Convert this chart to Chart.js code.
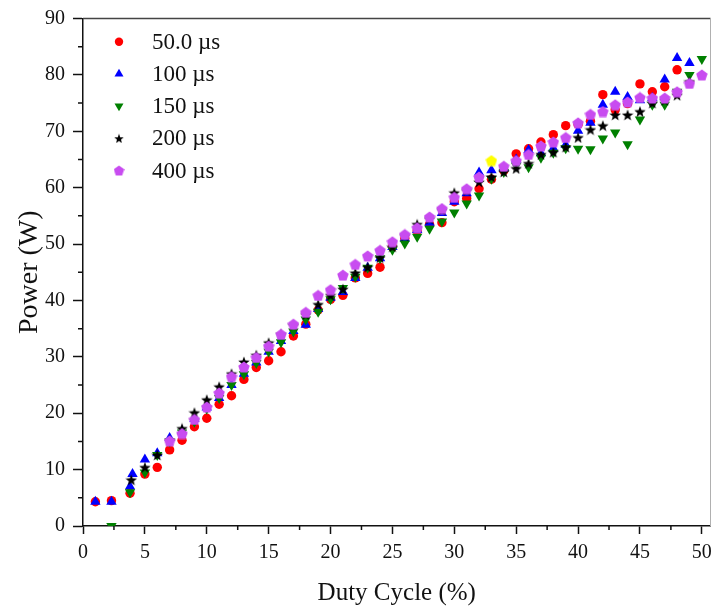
<!DOCTYPE html>
<html>
<head>
<meta charset="utf-8">
<script src="https://cdn.jsdelivr.net/npm/chart.js@4.4.1/dist/chart.umd.min.js"></script>
<style>
  html, body { margin: 0; padding: 0; background: #fff; }
</style>
</head>
<body>
<canvas id="powerChart" width="712" height="610"></canvas>
<script>
// Duty cycle (%) and power (W), one pair per pulse width
const dutyRed = [1, 2.3, 3.8, 5, 6, 7, 8, 9, 10, 11, 12, 13, 14, 15, 16, 17, 18, 19, 20, 21, 22, 23, 24, 25, 26, 27, 28, 29, 30, 31, 32, 33, 34, 35, 36, 37, 38, 39, 40, 41, 42, 43, 44, 45, 46, 47, 48];
const powerRed = [4.3, 4.5, 5.8, 9.2, 10.4, 13.5, 15.2, 17.6, 19.1, 21.6, 23.1, 26.0, 28.1, 29.3, 30.9, 33.7, 35.8, 38.3, 40.2, 40.9, 44.0, 44.8, 45.9, 49.5, 51.0, 52.3, 53.5, 53.8, 57.5, 58.1, 59.8, 61.5, 63.0, 66.0, 66.9, 68.1, 69.4, 71.0, 71.2, 71.8, 76.5, 73.8, 74.9, 78.4, 77.0, 77.9, 80.9];

const dutyBlue = [1, 2.3, 3.8, 4, 5, 6, 7, 8, 9, 10, 11, 12, 13, 14, 15, 16, 17, 18, 19, 20, 21, 22, 23, 24, 25, 26, 27, 28, 29, 30, 31, 32, 33, 34, 35, 36, 37, 38, 39, 40, 41, 42, 43, 44, 45, 46, 47, 48, 49];
const powerBlue = [4.3, 4.3, 7.0, 9.2, 11.8, 12.9, 15.6, 16.8, 19.0, 21.0, 22.7, 25.0, 27.0, 29.0, 30.9, 32.8, 34.6, 35.7, 38.5, 40.5, 41.5, 44.0, 45.8, 47.5, 49.5, 51.0, 52.5, 53.8, 55.5, 57.5, 59.0, 62.7, 63.1, 63.5, 65.0, 66.7, 66.1, 67.0, 67.6, 70.1, 71.5, 74.7, 77.0, 76.1, 75.5, 75.9, 79.2, 83.0, 82.1];

const dutyGreen = [2.3, 3.8, 5, 6, 7, 8, 9, 10, 11, 12, 13, 14, 15, 16, 17, 18, 19, 20, 21, 22, 23, 24, 25, 26, 27, 28, 29, 30, 31, 32, 33, 34, 35, 36, 37, 38, 39, 40, 41, 42, 43, 44, 45, 46, 47, 48, 49, 50];
const powerGreen = [0, 6.0, 9.5, 12.6, 15.0, 16.6, 18.5, 20.8, 22.7, 25.0, 26.9, 28.9, 30.9, 32.6, 34.5, 36.6, 38.0, 40.2, 42.2, 44.2, 45.8, 47.5, 49.0, 50.1, 51.3, 52.7, 54.0, 55.6, 57.2, 58.6, 61.6, 62.8, 63.9, 63.6, 65.3, 66.2, 67.0, 66.9, 66.8, 68.7, 69.8, 67.7, 72.1, 74.7, 74.7, 77.0, 80.0, 82.8];

const dutyStar = [3.9, 5, 6, 7, 8, 9, 10, 11, 12, 13, 14, 15, 16, 17, 18, 19, 20, 21, 22, 23, 24, 25, 26, 27, 28, 29, 30, 31, 32, 33, 34, 35, 36, 37, 38, 39, 40, 41, 42, 43, 44, 45, 46, 47, 48, 49];
const powerStar = [8.2, 10.4, 12.6, 15.2, 17.3, 20.1, 22.4, 24.7, 27.0, 29.1, 30.3, 32.5, 34.0, 35.6, 37.5, 39.3, 40.9, 42.0, 44.9, 45.9, 47.6, 49.5, 51.5, 53.5, 54.5, 56.0, 59.1, 59.5, 61.0, 61.9, 62.8, 63.4, 64.3, 65.9, 66.3, 67.2, 68.9, 70.3, 71.0, 72.9, 72.9, 73.5, 75.0, 75.5, 76.4, 78.8];

const dutyPent = [7, 8, 9, 10, 11, 12, 13, 14, 15, 16, 17, 18, 19, 20, 21, 22, 23, 24, 25, 26, 27, 28, 29, 30, 31, 32, 33, 34, 35, 36, 37, 38, 39, 40, 41, 42, 43, 44, 45, 46, 47, 48, 49, 50];
const powerPent = [15.1, 16.4, 18.9, 21.1, 23.6, 26.5, 28.2, 29.9, 31.9, 34.0, 35.8, 37.9, 40.9, 41.9, 44.5, 46.4, 47.9, 48.9, 50.4, 51.7, 52.9, 54.8, 56.3, 58.3, 59.8, 61.9, 64.8, 63.8, 64.8, 65.9, 67.4, 68.1, 68.9, 71.5, 73.0, 73.5, 74.7, 75.2, 76.0, 75.9, 75.9, 77.0, 78.5, 80.0];
// the one 400 us point that is drawn yellow in the figure
const yellowDuty = 33;

const seriesNames = ['50.0 \u00b5s', '100 \u00b5s', '150 \u00b5s', '200 \u00b5s', '400 \u00b5s'];

const xTickValues = [0, 5, 10, 15, 20, 25, 30, 35, 40, 45, 50];
const yTickValues = [0, 10, 20, 30, 40, 50, 60, 70, 80, 90];
const xMinorValues = [2.5, 7.5, 12.5, 17.5, 22.5, 27.5, 32.5, 37.5, 42.5, 47.5];
const yMinorValues = [5, 15, 25, 35, 45, 55, 65, 75, 85];

const FONT = "'Liberation Serif', 'Times New Roman', serif";
const PINK = '#c84cf0';

function toPoints(xs, ys) {
    return xs.map((x, i) => ({ x: x, y: ys[i] }));
}

// small canvases used as point styles
function shapeCanvas(size, color, kind) {
    const c = document.createElement('canvas');
    c.width = size;
    c.height = size;
    const g = c.getContext('2d');
    const cx = size / 2;
    const R = size / 2;
    g.fillStyle = color;
    g.beginPath();
    if (kind === 'star') {
        for (let i = 0; i < 10; i++) {
            const r = i % 2 === 0 ? R : R * 0.42;
            const a = -Math.PI / 2 + i * Math.PI / 5;
            const px = cx + r * Math.cos(a);
            const py = cx + 0.6 + r * Math.sin(a);
            if (i === 0) g.moveTo(px, py); else g.lineTo(px, py);
        }
    } else {
        const cy = cx + R * 0.095;
        for (let i = 0; i < 5; i++) {
            const a = -Math.PI / 2 + i * 2 * Math.PI / 5;
            const px = cx + R * Math.cos(a);
            const py = cy + R * Math.sin(a);
            if (i === 0) g.moveTo(px, py); else g.lineTo(px, py);
        }
    }
    g.closePath();
    g.fill();
    return c;
}

const starImg = shapeCanvas(12, '#000', 'star');
const pentImg = shapeCanvas(12, PINK, 'pent');
const yellowPentImg = shapeCanvas(12, '#ffff00', 'pent');
const starLegend = shapeCanvas(10, '#000', 'star');
const pentLegend = shapeCanvas(11, PINK, 'pent');

// legend entries (drawn inside the plot, top left)
const legendMarks = [
    { pointStyle: 'circle', radius: 4.2, rotation: 0, color: '#ff0000' },
    { pointStyle: 'triangle', radius: 5.2, rotation: 0, color: '#0000ff' },
    { pointStyle: 'triangle', radius: 5.2, rotation: 180, color: '#008000' },
    { pointStyle: starLegend, radius: 5, rotation: 0, color: '#000' },
    { pointStyle: pentLegend, radius: 5, rotation: 0, color: PINK }
];

const framePlugin = {
    id: 'frameAndLegend',
    afterDraw(chart) {
        const ctx = chart.ctx;
        const a = chart.chartArea;
        const xs = chart.scales.x;
        const ys = chart.scales.y;
        ctx.save();

        // minor ticks
        ctx.strokeStyle = '#111';
        ctx.lineWidth = 1.5;
        ctx.beginPath();
        xMinorValues.forEach(v => {
            const px = xs.getPixelForValue(v);
            ctx.moveTo(px, a.bottom);
            ctx.lineTo(px, a.bottom + 4);
        });
        yMinorValues.forEach(v => {
            const py = ys.getPixelForValue(v);
            ctx.moveTo(a.left - 5, py);
            ctx.lineTo(a.left, py);
        });
        ctx.stroke();

        // top and right border
        ctx.strokeStyle = '#444';
        ctx.lineWidth = 1.5;
        ctx.beginPath();
        ctx.moveTo(a.left, a.top);
        ctx.lineTo(a.right, a.top);
        ctx.stroke();
        ctx.strokeStyle = '#b0b0b0';
        ctx.lineWidth = 1;
        ctx.beginPath();
        ctx.moveTo(a.right, a.top);
        ctx.lineTo(a.right, a.bottom);
        ctx.stroke();

        // legend
        ctx.font = '23px ' + FONT;
        ctx.textAlign = 'left';
        ctx.textBaseline = 'middle';
        legendMarks.forEach((m, i) => {
            const y = 41.7 + i * 32.2;
            ctx.fillStyle = m.color;
            if (m.pointStyle === 'circle') {
                ctx.beginPath();
                ctx.arc(119, y, m.radius, 0, Math.PI * 2);
                ctx.fill();
            } else if (m.pointStyle === 'triangle') {
                const s = m.rotation === 180 ? -1 : 1;
                ctx.beginPath();
                ctx.moveTo(119, y - s * m.radius);
                ctx.lineTo(119 + m.radius * 0.866, y + s * m.radius * 0.5);
                ctx.lineTo(119 - m.radius * 0.866, y + s * m.radius * 0.5);
                ctx.closePath();
                ctx.fill();
            } else {
                const img = m.pointStyle;
                ctx.drawImage(img, 119 - img.width / 2, y - img.height / 2);
            }
            ctx.fillStyle = '#111';
            ctx.fillText(seriesNames[i], 152, y + 1);
        });
        ctx.restore();
    }
};

const ctx = document.getElementById('powerChart').getContext('2d');

const chart = new Chart(ctx, {
    type: 'scatter',
    data: {
        datasets: [{
            label: seriesNames[0],
            data: toPoints(dutyRed, powerRed),
            pointStyle: 'circle',
            pointRadius: 4.7,
            pointBackgroundColor: '#ff0000',
            pointBorderWidth: 0,
            order: 5
        },
        {
            label: seriesNames[1],
            data: toPoints(dutyBlue, powerBlue),
            pointStyle: 'triangle',
            pointRadius: 6,
            pointBackgroundColor: '#0000ff',
            pointBorderWidth: 0,
            order: 4
        },
        {
            label: seriesNames[2],
            data: toPoints(dutyGreen, powerGreen),
            pointStyle: 'triangle',
            pointRotation: 180,
            pointRadius: 6,
            pointBackgroundColor: '#008000',
            pointBorderWidth: 0,
            order: 3
        },
        {
            label: seriesNames[3],
            data: toPoints(dutyStar, powerStar),
            pointStyle: starImg,
            pointRadius: 6,
            pointBorderWidth: 0,
            order: 2
        },
        {
            label: seriesNames[4],
            data: toPoints(dutyPent, powerPent),
            pointStyle: dutyPent.map(d => d === yellowDuty ? yellowPentImg : pentImg),
            pointRadius: 6,
            pointBorderWidth: 0,
            order: 1
        }]
    },
    options: {
        responsive: false,
        animation: false,
        layout: {
            autoPadding: false,
            padding: { top: 18.5, right: 1.5, left: 0, bottom: 0 }
        },
        scales: {
            x: {
                type: 'linear',
                min: 0,
                max: 50.7,
                afterBuildTicks: s => { s.ticks = xTickValues.map(v => ({ value: v })); },
                afterFit: s => {
                    s.height = 84;
                    s.paddingLeft = 0;
                    s.paddingRight = 0;
                },
                grid: {
                    drawOnChartArea: false,
                    drawTicks: true,
                    tickLength: 8,
                    tickWidth: 1.5,
                    tickColor: '#111'
                },
                border: { display: true, color: '#111', width: 1.5 },
                ticks: {
                    padding: 7,
                    color: '#111',
                    maxRotation: 0,
                    font: { family: FONT, size: 20 }
                },
                title: {
                    display: true,
                    text: 'Duty Cycle (%)',
                    color: '#111',
                    font: { family: FONT, size: 25 },
                    padding: { top: 0, bottom: 2 }
                }
            },
            y: {
                type: 'linear',
                min: 0,
                max: 90,
                afterBuildTicks: s => { s.ticks = yTickValues.map(v => ({ value: v })); },
                afterFit: s => {
                    s.width = 83;
                    s.paddingTop = 0;
                    s.paddingBottom = 0;
                },
                grid: {
                    drawOnChartArea: false,
                    drawTicks: true,
                    tickLength: 10,
                    tickWidth: 1.5,
                    tickColor: '#111'
                },
                border: { display: true, color: '#111', width: 1.5 },
                ticks: {
                    padding: 8,
                    color: '#111',
                    font: { family: FONT, size: 20 }
                },
                title: {
                    display: true,
                    text: 'Power (W)',
                    color: '#111',
                    font: { family: FONT, size: 28 },
                    padding: { top: 13, bottom: 0 }
                }
            }
        },
        plugins: {
            legend: { display: false },
            tooltip: { enabled: false }
        }
    },
    plugins: [framePlugin]
});
</script>
</body>
</html>
